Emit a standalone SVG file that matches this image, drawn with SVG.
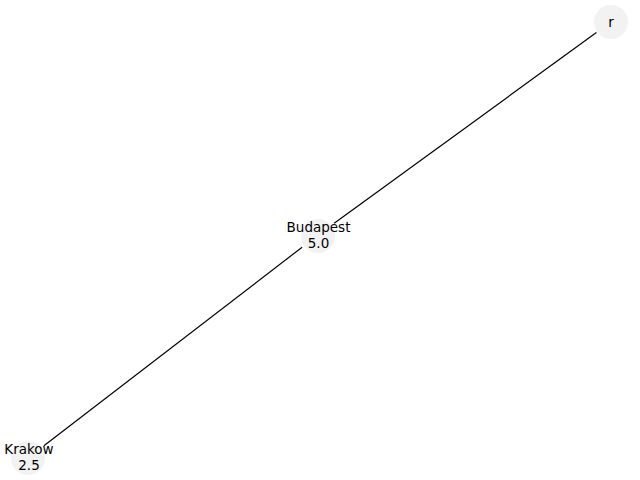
<svg xmlns="http://www.w3.org/2000/svg" width="640" height="480" viewBox="0 0 640 480">
<style>
.node circle{fill:#f2f2f2;stroke:none}
.node text{font-family:"DejaVu Sans",sans-serif;font-size:13.5px;fill:#000;text-anchor:middle}
.edges line{stroke:#000;stroke-width:1.2}
</style>
<rect width="640" height="480" fill="#fff"/>
<g id="edges" class="edges">
<line x1="596.4" y1="32.6" x2="334.2" y2="223.2"/>
<line x1="302.1" y1="247.2" x2="43.9" y2="445.8"/>
</g>
<g id="node-r" class="node">
<circle cx="611" cy="22" r="17"/>
<text x="611" y="27">r</text>
</g>
<g id="node-budapest" class="node">
<circle cx="318" cy="236" r="17"/>
<text x="318.5" y="232">Budapest</text>
<text x="318.5" y="248">5.0</text>
</g>
<g id="node-krakow" class="node">
<circle cx="28" cy="458" r="17"/>
<text x="29" y="454">Krakow</text>
<text x="29" y="470">2.5</text>
</g>
</svg>
